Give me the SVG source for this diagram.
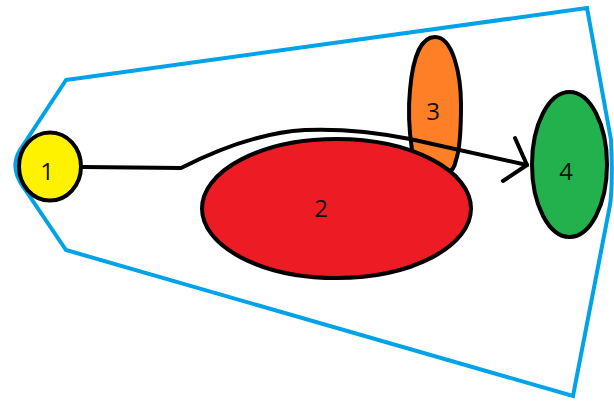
<svg xmlns="http://www.w3.org/2000/svg" width="614" height="403" viewBox="0 0 614 403">
<style>
.n{stroke:#000;stroke-width:4}
.lbl{font-family:"Open Sans","Liberation Sans",sans-serif;font-size:24px;fill:#111;text-anchor:middle}
.edge{fill:none;stroke:#000;stroke-width:4;stroke-linejoin:round;stroke-linecap:round}
</style>
<rect width="614" height="403" fill="#fff"/>
<g id="region">
<path d="M66,80 L587,8 L611,140 Q613,185 610,205 L573,396 L66,250 L24,188 Q9,168 20,150 Z" fill="none" stroke="#00A2E8" stroke-width="4" stroke-linejoin="miter"/>
</g>
<g id="node3">
<path class="n" fill="#FF7F27" d="M435,37 C453,37 461,75 461,105 C461,130 459,152 456,160 Q454,170 448,173 L414,166 L412,150 C409,130 408,110 410,90 C413,55 422,37 435,37 Z"/>
<text class="lbl" x="433" y="120">3</text>
</g>
<g id="node2">
<ellipse class="n" fill="#ED1C24" cx="336.5" cy="208.5" rx="134.5" ry="69.5"/>
<text class="lbl" x="321" y="217">2</text>
</g>
<g id="connectors">
<path class="edge" d="M83,167 L181,168 Q250,133 305,130 Q355,128 410,139 L527,165"/>
<path class="edge" d="M515,138 L527,165 L503,181"/>
</g>
<g id="node4">
<ellipse class="n" fill="#22B14C" cx="569.5" cy="164.5" rx="37.5" ry="72.5"/>
<text class="lbl" x="566" y="180">4</text>
</g>
<g id="node1">
<ellipse class="n" fill="#FFF200" cx="50" cy="166.5" rx="31" ry="34"/>
<text class="lbl" x="47" y="180">1</text>
</g>
</svg>
